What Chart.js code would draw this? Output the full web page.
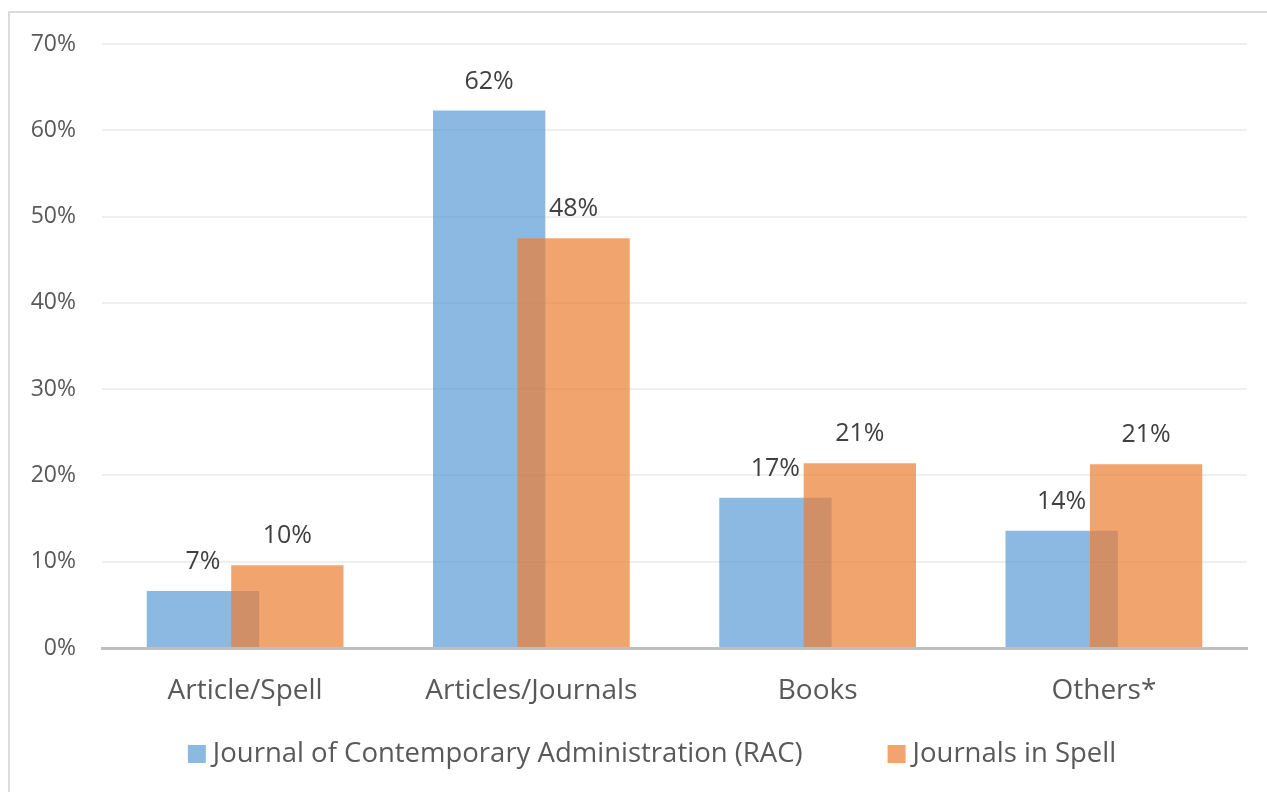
<!DOCTYPE html>
<html>
<head>
<meta charset="utf-8">
<script src="https://cdn.jsdelivr.net/npm/chart.js@4"></script>
<style>
  html, body { margin: 0; padding: 0; background: #fff; overflow: hidden; }
  #frame { position: absolute; left: 8px; top: 11px; width: 1300px; height: 800px; border-left: 2px solid #dcdcdc; border-top: 2px solid #dcdcdc; }
  #wrap { position: absolute; left: 0; top: 0; width: 1304px; height: 792px; }
</style>
</head>
<body>
<div id="frame"></div>
<div id="wrap"><canvas id="myChart" width="1304" height="792"></canvas></div>
<script>
  // dados do grafico
  const categorias = ['Article/Spell', 'Articles/Journals', 'Books', 'Others*'];
  const serieRAC = [6.6, 62.3, 17.4, 13.6];
  const serieSpell = [9.6, 47.5, 21.4, 21.3];
  const nomesSeries = ['Journal of Contemporary Administration (RAC)', 'Journals in Spell'];
  const ticksY = [0, 10, 20, 30, 40, 50, 60, 70];

  const fonte = "'Open Sans', 'DejaVu Sans', sans-serif";

  // laranja por cima do azul (transparente), como no original + rotulos
  const laranjaPorCima = {
    id: 'laranjaPorCima',
    beforeDatasetDraw(chart, args) {
      if (args.index === 1) return false;
    },
    afterDatasetsDraw(chart) {
      chart.getDatasetMeta(1).controller.draw();
      const ctx = chart.ctx;
      ctx.save();
      ctx.font = '25px ' + fonte;
      ctx.fillStyle = '#404040';
      ctx.textAlign = 'center';
      ctx.textBaseline = 'middle';
      chart.data.datasets.forEach((ds, i) => {
        chart.getDatasetMeta(i).data.forEach((bar, j) => {
          ctx.fillText(Math.round(ds.data[j]) + '%', bar.x, bar.y - 29);
        });
      });
      ctx.restore();
    }
  };

  // legenda desenhada a mao (espacamento do Excel)
  const legenda = {
    id: 'legenda',
    afterDraw(chart) {
      const ctx = chart.ctx;
      const box = 18, gapTexto = 7, gapItem = 85;
      ctx.save();
      ctx.font = '27.5px ' + fonte;
      ctx.textBaseline = 'middle';
      ctx.textAlign = 'left';
      const ds = chart.data.datasets;
      const larguras = ds.map(d => ctx.measureText(d.label).width);
      const total = larguras.reduce((a, w) => a + box + gapTexto + w, 0) + gapItem * (ds.length - 1);
      let x = chart.width / 2 - total / 2;
      const y = chart.height - 38;
      ds.forEach((d, i) => {
        ctx.fillStyle = d.backgroundColor;
        ctx.fillRect(x, y - box / 2, box, box);
        ctx.fillStyle = '#595959';
        ctx.fillText(d.label, x + box + gapTexto, y);
        x += box + gapTexto + larguras[i] + gapItem;
      });
      ctx.restore();
    }
  };

  const ctx = document.getElementById('myChart').getContext('2d');
  const myChart = new Chart(ctx, {
    type: 'bar',
    data: {
      labels: categorias,
      datasets: [{
        label: nomesSeries[0],
        data: serieRAC,
        backgroundColor: 'rgba(91, 155, 213, 0.7)',
        borderWidth: 0
      }, {
        label: nomesSeries[1],
        data: serieSpell,
        backgroundColor: 'rgba(237, 125, 49, 0.7)',
        borderWidth: 0
      }]
    },
    plugins: [laranjaPorCima, legenda],
    options: {
      responsive: false,
      animation: false,
      categoryPercentage: 0.59,
      barPercentage: 1.33,
      layout: { padding: { top: 44, left: 10, right: 57, bottom: 74 } },
      plugins: {
        tooltip: { enabled: false },
        legend: { display: false }
      },
      scales: {
        x: {
          z: 1,
          grid: { display: false },
          border: { display: true, color: '#bfbfbf', width: 3 },
          ticks: { color: '#595959', padding: 18, font: { family: fonte, size: 28 } },
          afterFit: s => { s.height = 70; }
        },
        y: {
          min: ticksY[0],
          max: ticksY[ticksY.length - 1],
          afterBuildTicks: s => { s.ticks = ticksY.map(v => ({ value: v })); },
          grid: { color: '#efefef', lineWidth: 2, drawTicks: false },
          border: { display: false },
          ticks: {
            color: '#595959',
            padding: 26,
            font: { family: fonte, size: 23 },
            callback: v => v + '%'
          },
          afterFit: s => { s.width = 92; }
        }
      }
    }
  });
</script>
</body>
</html>
